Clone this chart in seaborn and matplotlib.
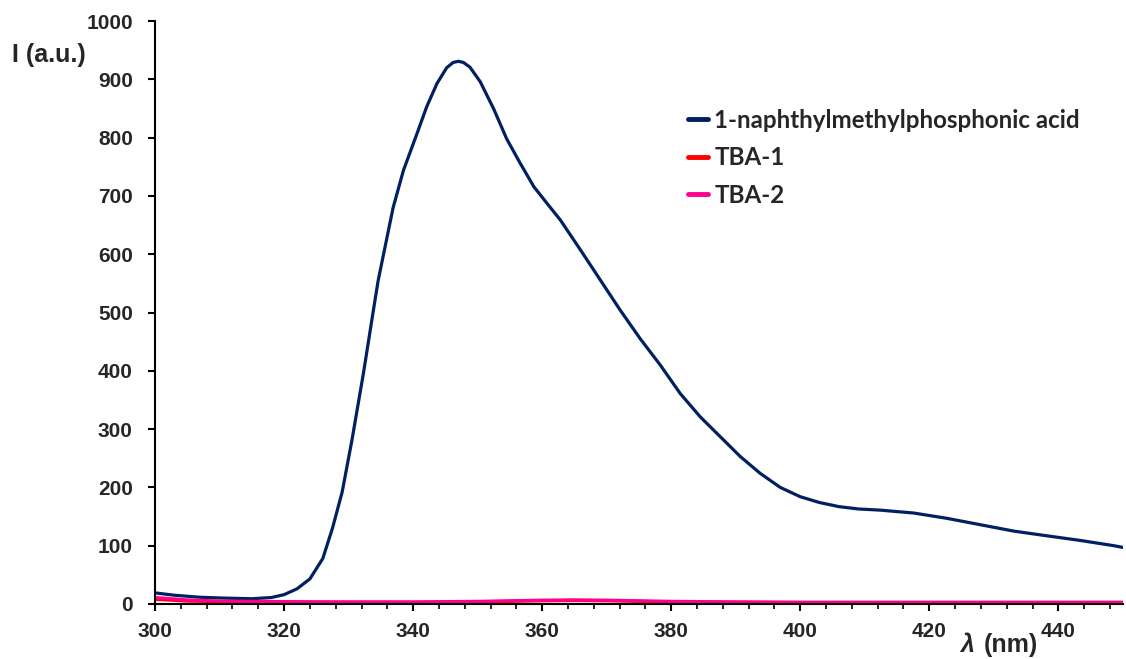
import numpy as np
import pandas as pd
import matplotlib
matplotlib.use("Agg")
import matplotlib.pyplot as plt
import seaborn as sns
from matplotlib.ticker import MultipleLocator

# emission spectrum of 1-naphthylmethylphosphonic acid
wl_acid = [300, 303, 307, 311, 315, 318, 320, 322, 324, 326, 327.5, 329, 330.5,
           332.3, 334, 334.6, 336.9, 338.5, 340.6, 342.1, 343.7, 345.2, 346.2, 347,
           347.8, 348.8, 350.4, 352.5, 354.5, 356.6, 358.7, 360.7, 362.8, 365.9, 369,
           372.1, 375.2, 378.3, 381.4, 384.5, 387.6, 390.7, 393.8, 396.9, 400,
           403, 406, 409, 412.4, 417.6, 422.7, 427.9, 433.1, 438.2, 443.4,
           448.6, 450]
int_acid = [19, 15, 11.5, 10, 9, 11, 16, 26, 43, 78, 130, 192, 280,
            396, 515, 556, 680, 744, 807, 853, 893, 920, 929, 931,
            929, 921, 896, 849, 798, 756, 716, 688, 659, 608, 556,
            504, 455, 410, 361, 321, 287, 253, 224, 200, 184,
            174, 167, 163, 161, 156, 147, 136, 125, 117, 109,
            100, 97]

# TBA complexes: nearly quenched
wl_tba = [300, 305, 310, 320, 330, 340, 350, 355, 360, 365, 370, 375, 380,
          390, 400, 410, 420, 430, 440, 450]
int_tba1 = [8, 5, 4, 3, 3, 3, 3.5, 4.5, 5.5, 6, 5.5, 4.5, 3.5,
            3, 2.5, 2.5, 2.5, 2.5, 2.5, 2.5]
int_tba2 = [11, 7, 5, 4, 3.5, 3.5, 4.5, 5.5, 6.5, 7, 6.5, 5.5, 4.5,
            3.5, 3, 3, 3, 3, 3, 3]

labels = ["1-naphthylmethylphosphonic acid", "TBA-1", "TBA-2"]
colors = ["#002060", "#FF0000", "#FF0090"]

sns.set_style("ticks")
plt.rcParams["font.family"] = "sans-serif"
plt.rcParams["font.sans-serif"] = ["Liberation Sans", "DejaVu Sans"]

fig = plt.figure(figsize=(11.26, 6.59), dpi=100)
ax = fig.add_axes([0.1377, 0.0835, 0.8595, 0.8845])

sns.lineplot(x=wl_acid, y=int_acid, ax=ax, color=colors[0], lw=2.3, label=labels[0])
sns.lineplot(x=wl_tba, y=int_tba1, ax=ax, color=colors[1], lw=2.3, label=labels[1])
sns.lineplot(x=wl_tba, y=int_tba2, ax=ax, color=colors[2], lw=2.3, label=labels[2])

ax.set_xlim(300, 450)
ax.set_ylim(0, 1000)
ax.xaxis.set_major_locator(MultipleLocator(20))
ax.xaxis.set_minor_locator(MultipleLocator(4))
ax.yaxis.set_major_locator(MultipleLocator(100))

sns.despine(ax=ax)
for s in ["left", "bottom"]:
    ax.spines[s].set_linewidth(1.5)
    ax.spines[s].set_color("black")
ax.tick_params(which="major", length=5, width=1.5, labelsize=15, color="black")
ax.tick_params(axis="x", which="major", pad=8)
ax.tick_params(axis="y", which="major", pad=11)
ax.tick_params(which="minor", length=3.5, width=1.2, color="black")
ax.tick_params(axis="y", which="minor", length=0)
for t in ax.get_xticklabels() + ax.get_yticklabels():
    t.set_fontweight("bold")

ax.set_xlabel("")
ax.set_ylabel("")
fig.text(0.011, 0.916, "I (a.u.)", fontsize=18, fontweight="bold", va="center", ha="left")
fig.text(0.853, 0.022, "λ", fontsize=18, fontweight="bold", fontstyle="italic",
         va="center", ha="left")
fig.text(0.874, 0.022, "(nm)", fontsize=18, fontweight="bold", va="center", ha="left")

leg = ax.legend(loc="upper left", bbox_to_anchor=(0.5915, 0.868), bbox_transform=fig.transFigure,
                frameon=False, handlelength=0.85, handletextpad=0.25, labelspacing=0.6,
                prop={"family": "Lato", "weight": "bold", "size": 17.4})
for h in leg.get_lines():
    h.set_linewidth(3.5)

fig.savefig("out.png", dpi=100)
